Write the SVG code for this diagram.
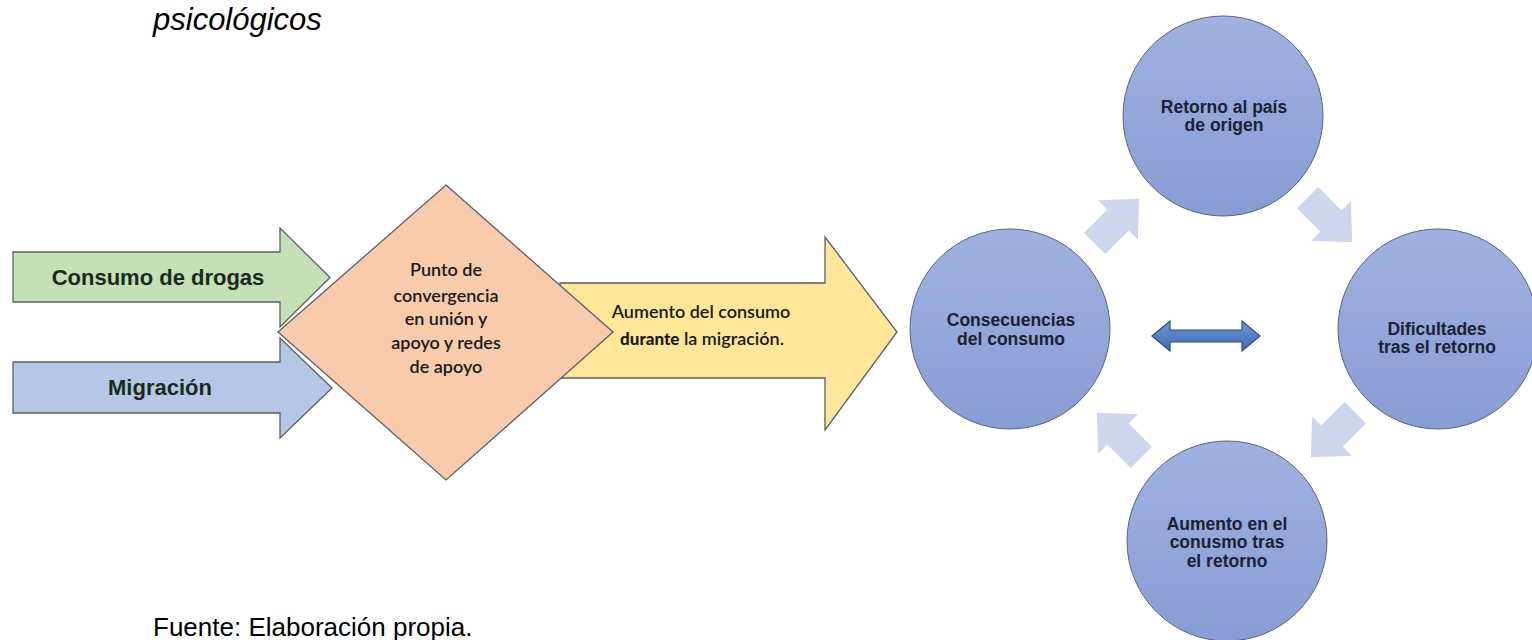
<svg xmlns="http://www.w3.org/2000/svg" width="1532" height="640" viewBox="0 0 1532 640">
<style>
.cap{font-family:"Liberation Sans",Arial,sans-serif;fill:#000}
.ltxt{font-family:"Liberation Sans",Arial,sans-serif;font-weight:bold;font-size:22px;fill:#1a2a1a;text-anchor:middle}
.dtxt{font-family:Lato,"Liberation Sans",sans-serif;font-weight:600;font-size:18px;fill:#1a1a1a;text-anchor:middle}
.ctxt{font-family:"Liberation Sans",Arial,sans-serif;font-weight:bold;font-size:17.5px;fill:#1c2036;text-anchor:middle}
.edge{stroke:#5a5f66;stroke-width:1.3}
.circ{fill:url(#cg);stroke:#5c6382;stroke-width:1}
.cyc{fill:#cfd5ec}
</style>
<defs>
<linearGradient id="cg" x1="0" y1="0" x2="0" y2="1">
<stop offset="0" stop-color="#a0b1de"/>
<stop offset="1" stop-color="#889dd4"/>
</linearGradient>
<linearGradient id="dg" x1="0" y1="0" x2="0" y2="1">
<stop offset="0" stop-color="#6f97d6"/>
<stop offset="1" stop-color="#3e69b0"/>
</linearGradient>
<path id="cyca" d="M -33,-15 L 0,-15 L 0,-28 L 30,0 L 0,28 L 0,15 L -33,15 Z"/>
</defs>
<rect width="1532" height="640" fill="#ffffff"/>
<text class="cap" x="153" y="30" font-size="31" font-style="italic">psicológicos</text>
<text class="cap" x="153" y="636" font-size="26">Fuente: Elaboración propia.</text>

<g id="connectors">
<use href="#cyca" class="cyc" transform="translate(1118,220) rotate(-45)"/>
<use href="#cyca" class="cyc" transform="translate(1331,221) rotate(45)"/>
<use href="#cyca" class="cyc" transform="translate(1332,436) rotate(135)"/>
<use href="#cyca" class="cyc" transform="translate(1118,434) rotate(-135)"/>
<path d="M 1152,336 L 1170,321 L 1170,330 L 1242,330 L 1242,321 L 1260,336 L 1242,351 L 1242,342 L 1170,342 L 1170,351 Z" fill="url(#dg)" stroke="#2d4c7e" stroke-width="1.2"/>
</g>

<g id="consumo">
<path class="edge" d="M 13,252 L 280,252 L 280,228 L 330,277.5 L 280,327 L 280,302 L 13,302 Z" fill="#c5e0b4"/>
<text class="ltxt" x="158" y="285">Consumo de drogas</text>
</g>
<g id="migracion">
<path class="edge" d="M 13,362 L 280,362 L 280,338 L 332,388 L 280,438 L 280,413 L 13,413 Z" fill="#b4c7e7"/>
<text class="ltxt" x="160" y="395" fill="#14203a">Migración</text>
</g>
<g id="aumento">
<path class="edge" d="M 560,283 L 825,283 L 825,237 L 897,332 L 825,430 L 825,378 L 560,378 Z" fill="#ffe699"/>
<text class="dtxt" x="701" y="318" font-size="15" font-weight="500">Aumento del consumo</text>
<text class="dtxt" x="702" y="345" font-size="15" font-weight="500"><tspan font-weight="900" font-size="17">durante</tspan> la migración.</text>
</g>
<g id="convergencia">
<path class="edge" d="M 446,185 L 613,332 L 446,480 L 278,332 Z" fill="#f8cbad"/>
<text class="dtxt" x="446" y="276">Punto de</text>
<text class="dtxt" x="446" y="302" font-size="21">convergencia</text>
<text class="dtxt" x="446" y="325">en unión y</text>
<text class="dtxt" x="446" y="349">apoyo y redes</text>
<text class="dtxt" x="446" y="373">de apoyo</text>
</g>

<g id="consecuencias">
<circle class="circ" cx="1010" cy="329" r="100"/>
<text class="ctxt" x="1011" y="326">Consecuencias</text>
<text class="ctxt" x="1011" y="345">del consumo</text>
</g>
<g id="retorno">
<circle class="circ" cx="1223" cy="116" r="100"/>
<text class="ctxt" x="1224" y="113">Retorno al país</text>
<text class="ctxt" x="1224" y="131">de origen</text>
</g>
<g id="dificultades">
<circle class="circ" cx="1438" cy="329" r="100"/>
<text class="ctxt" x="1437" y="335">Dificultades</text>
<text class="ctxt" x="1437" y="353">tras el retorno</text>
</g>
<g id="aumento-retorno">
<circle class="circ" cx="1227" cy="541" r="100"/>
<text class="ctxt" x="1227" y="530">Aumento en el</text>
<text class="ctxt" x="1227" y="548">conusmo tras</text>
<text class="ctxt" x="1227" y="567">el retorno</text>
</g>
</svg>
